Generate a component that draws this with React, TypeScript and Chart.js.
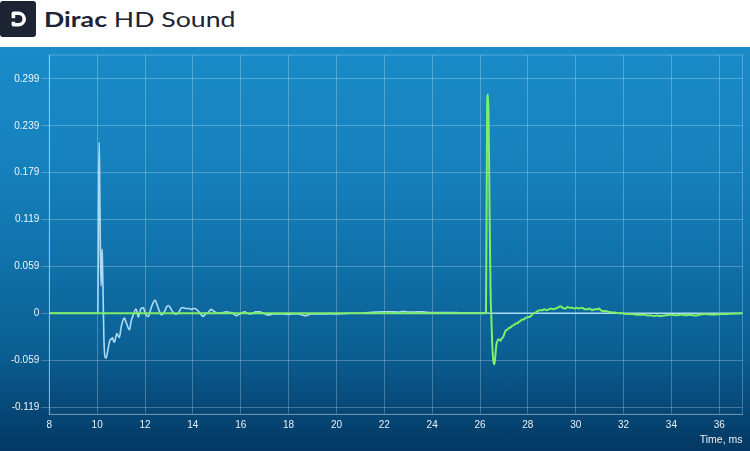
import React, { useEffect, useRef } from 'react';
import { Chart, registerables } from 'chart.js';

Chart.register(...registerables);

// ---- axis ticks ----
const xTickValues = [8, 10, 12, 14, 16, 18, 20, 22, 24, 26, 28, 30, 32, 34, 36];
const yTickValues = [-0.1196, -0.0598, 0, 0.0598, 0.1196, 0.1794, 0.2392, 0.299];
const yTickLabels = ['-0.119', '-0.059', '0', '0.059', '0.119', '0.179', '0.239', '0.299'];
const xTitle = 'Time, ms';

// ---- blue (first) impulse response ----
const blueTime = [
  8.0, 9.0, 10.0, 10.03, 10.06, 10.083, 10.1, 10.125, 10.16, 10.19, 10.208, 10.225, 10.245, 10.28,
  10.33, 10.38, 10.43, 10.5, 10.54, 10.6, 10.64, 10.69, 10.72, 10.78, 10.82, 10.88, 10.93, 10.98,
  11.03, 11.09, 11.14, 11.19, 11.24, 11.3, 11.35, 11.4, 11.44, 11.5, 11.54, 11.6, 11.63, 11.68,
  11.72, 11.78, 11.83, 11.93, 11.98, 12.04, 12.14, 12.2, 12.28, 12.35, 12.42, 12.48, 12.56, 12.62,
  12.69, 12.76, 12.83, 12.9, 12.97, 13.04, 13.11, 13.18, 13.25, 13.32, 13.39, 13.46, 13.53, 13.6,
  13.74, 13.84, 13.94, 14.02, 14.08, 14.15, 14.22, 14.3, 14.38, 14.43, 14.5, 14.57, 14.64, 14.72,
  14.78, 14.85, 14.92, 15.0, 15.12, 15.25, 15.4, 15.55, 15.68, 15.75, 15.82, 15.9, 15.96, 16.08,
  16.17, 16.28, 16.38, 16.5, 16.62, 16.79, 16.95, 17.1, 17.21, 17.35, 17.5, 17.63, 17.8, 18.0,
  18.18, 18.4, 18.55, 18.67, 18.74, 18.82, 18.95, 19.1, 19.29, 19.5, 19.7, 19.99, 20.3, 20.6,
  20.9, 21.1, 21.3, 21.6, 21.9, 22.06, 22.3, 22.6, 22.78, 22.9, 23.2, 23.48, 23.7, 24.0, 24.5,
  24.9, 25.5, 26.0, 26.5, 27.5, 29.0, 31.0, 33.0, 35.0, 36.97,
];
const blueValues = [
  0, 0, 0, 0.002, 0.14, 0.218, 0.19, 0.11, 0.035, 0.06, 0.082, 0.06, 0.03, -0.03,
  -0.056, -0.057, -0.05, -0.038, -0.034, -0.033, -0.031, -0.036, -0.037, -0.03, -0.026, -0.029, -0.031, -0.022,
  -0.014, -0.008, -0.006, -0.01, -0.014, -0.019, -0.021, -0.014, -0.008, -0.003, 0, 0.005, 0.005, 0,
  -0.005, 0.001, 0.006, 0.007, 0.003, -0.002, -0.004, 0.001, 0.009, 0.014, 0.017, 0.013, 0.006, 0.001,
  -0.002, 0, 0.003, 0.008, 0.01, 0.008, 0.004, 0.001, -0.001, -0.001, 0, 0.004, 0.007, 0.007,
  0.006, 0.006, 0.005, 0.006, 0.006, 0.005, 0.003, 0, -0.003, -0.004, -0.002, 0, 0.001, 0.004,
  0.005, 0.003, 0.002, 0, 0, 0.001, 0.002, 0.001, 0, -0.002, -0.003, -0.002, -0.001, 0.001,
  0.002, 0, -0.001, 0, 0.002, 0.002, 0, -0.002, -0.002, -0.001, -0.001, -0.001, -0.001, -0.0015,
  -0.001, -0.001, -0.002, -0.003, -0.003, -0.002, -0.001, -0.001, -0.001, -0.001, -0.0005, -0.001, -0.0005, 0,
  0, 0, 0.001, 0.0015, 0.002, 0.002, 0.002, 0.0015, 0.0025, 0.002, 0.0015, 0.002, 0.0015, 0.001, 0.001,
  0.001, 0.0005, 0.0005, 0, 0, 0, 0, 0, 0, 0,
];

// ---- green (second) impulse response ----
const greenTime = [
  8, 12, 16, 20, 24, 26.2, 26.25, 26.3, 26.33, 26.36, 26.4, 26.44, 26.47, 26.52, 26.56, 26.6,
  26.63, 26.68, 26.72, 26.76, 26.81, 26.86, 26.91, 26.96, 27.02, 27.07, 27.14, 27.2, 27.28, 27.35,
  27.42, 27.49, 27.56, 27.62, 27.69, 27.76, 27.83, 27.9, 28.0, 28.11, 28.2, 28.32, 28.42, 28.5,
  28.6, 28.7, 28.78, 28.87, 28.95, 29.05, 29.15, 29.25, 29.36, 29.45, 29.57, 29.65, 29.75, 29.85,
  29.95, 30.05, 30.13, 30.26, 30.4, 30.5, 30.58, 30.68, 30.8, 30.9, 30.96, 31.1, 31.24, 31.35,
  31.5, 31.65, 31.8, 31.93, 32.1, 32.35, 32.49, 32.7, 32.9, 33.0, 33.1, 33.25, 33.4, 33.55,
  33.67, 33.8, 34.0, 34.2, 34.43, 34.6, 34.8, 34.99, 35.2, 35.4, 35.7, 36.1, 36.5, 36.97,
];
const greenValues = [
  0, 0, 0, 0, 0, 0, 0.001, 0.27, 0.279, 0.25, 0.13, 0.03, -0.002, -0.045, -0.061, -0.065,
  -0.058, -0.041, -0.036, -0.033, -0.034, -0.035, -0.032, -0.031, -0.026, -0.022, -0.021, -0.019, -0.018, -0.016,
  -0.015, -0.013, -0.013, -0.011, -0.01, -0.008, -0.008, -0.006, -0.005, -0.004, -0.001, 0.001, 0.003, 0.004,
  0.004, 0.005, 0.004, 0.005, 0.006, 0.005, 0.006, 0.007, 0.009, 0.007, 0.006, 0.008, 0.007, 0.007,
  0.006, 0.007, 0.006, 0.007, 0.005, 0.005, 0.006, 0.004, 0.005, 0.005, 0.006, 0.003, 0.003, 0.002,
  0.001, 0.001, 0, 0, -0.001, -0.001, -0.0017, -0.002, -0.002, -0.003, -0.0025, -0.0035, -0.003, -0.0035,
  -0.003, -0.0025, -0.002, -0.0025, -0.0017, -0.0025, -0.002, -0.003, -0.0015, -0.001, -0.0015, -0.001, -0.0005, 0,
];

const GRID = 'rgba(255,255,255,0.25)';
const TEXT = 'rgba(255,255,255,0.92)';
const FONT = "'Liberation Sans', Arial, sans-serif";

export default function App() {
  const canvasRef = useRef<HTMLCanvasElement>(null);

  useEffect(() => {
    if (!canvasRef.current) return;
    const frame = {
      id: 'frame',
      beforeDatasetsDraw(chart: any) {
        const { ctx, chartArea: a } = chart;
        ctx.save();
        ctx.strokeStyle = GRID;
        ctx.lineWidth = 1;
        ctx.strokeRect(a.left, a.top, a.right - a.left, a.bottom - a.top);
        ctx.restore();
      },
    };
    const chart = new Chart(canvasRef.current, {
      type: 'line',
      data: {
        datasets: [
          {
            label: 'Second',
            data: greenTime.map((t, i) => ({ x: t, y: greenValues[i] })),
            borderColor: '#7eef66',
            borderWidth: 2,
            pointRadius: 0,
            cubicInterpolationMode: 'monotone',
            order: 0,
          },
          {
            label: 'First',
            data: blueTime.map((t, i) => ({ x: t, y: blueValues[i] })),
            borderColor: '#a9dbf5',
            borderWidth: 1.6,
            pointRadius: 0,
            cubicInterpolationMode: 'monotone',
            order: 1,
          },
        ],
      },
      options: {
        animation: false,
        responsive: false,
        layout: { padding: { left: 0, right: 7.5, top: 4.5, bottom: 5 } },
        plugins: { legend: { display: false }, tooltip: { enabled: false } },
        scales: {
          x: {
            type: 'linear',
            min: 8,
            max: 36.97,
            afterBuildTicks: (s: any) => {
              s.ticks = xTickValues.map((v) => ({ value: v }));
            },
            afterFit: (s: any) => {
              s.height = 31.7;
            },
            grid: { color: GRID, drawTicks: false },
            border: { color: GRID },
            ticks: {
              color: TEXT,
              font: { size: 10, family: FONT },
              padding: 5,
              maxRotation: 0,
              autoSkip: false,
            },
            title: {
              display: true,
              text: xTitle,
              align: 'end',
              color: TEXT,
              font: { size: 10.5, family: FONT },
              padding: 0,
            },
          },
          y: {
            type: 'linear',
            min: -0.1289,
            max: 0.3295,
            afterBuildTicks: (s: any) => {
              s.ticks = yTickValues.map((v) => ({ value: v }));
            },
            afterFit: (s: any) => {
              s.width = 49.3;
            },
            grid: { color: GRID, tickLength: 8 },
            border: { color: GRID },
            ticks: {
              color: TEXT,
              font: { size: 10, family: FONT },
              padding: 2,
              callback: (_v: any, i: number) => yTickLabels[i],
            },
          },
        },
      },
      plugins: [frame],
    } as any);
    return () => chart.destroy();
  }, []);

  return (
    <div style={{ position: 'absolute', left: 0, top: 0, width: 750, height: 451, overflow: 'hidden', background: '#fff' }}>
      <div style={{ position: 'absolute', left: 0, top: 0, width: 750, height: 47, background: '#fff' }}>
        <svg width="37" height="38" style={{ position: 'absolute', left: 0, top: 0 }}>
          <rect x="0" y="1" width="36" height="36" rx="3" fill="#1d2434" />
          <path d="M13.4 18.2 V13.2 H18.4 A5.8 5.8 0 0 1 18.4 24.8 H13.4 V21.8" fill="none" stroke="#fff" strokeWidth="3.6" strokeLinejoin="round" />
        </svg>
        <div
          style={{
            position: 'absolute',
            left: 44,
            top: 6,
            fontFamily: 'Lato, sans-serif',
            fontSize: 21,
            lineHeight: '26px',
            color: '#1d2434',
            whiteSpace: 'nowrap',
            transform: 'scaleX(1.27)',
            transformOrigin: '0 0',
          }}
        >
          <span style={{ fontWeight: 700 }}>Dirac</span>
          <span style={{ fontWeight: 400 }}> HD Sound</span>
        </div>
      </div>
      <div
        style={{
          position: 'absolute',
          left: 0,
          top: 47,
          width: 750,
          height: 404,
          background: 'linear-gradient(to bottom, #1a8bc8 0%, #1683bf 25%, #1174ad 50%, #0b5f93 75%, #033863 100%)',
        }}
      >
        <canvas ref={canvasRef} width={750} height={404} style={{ display: 'block' }} />
      </div>
    </div>
  );
}
